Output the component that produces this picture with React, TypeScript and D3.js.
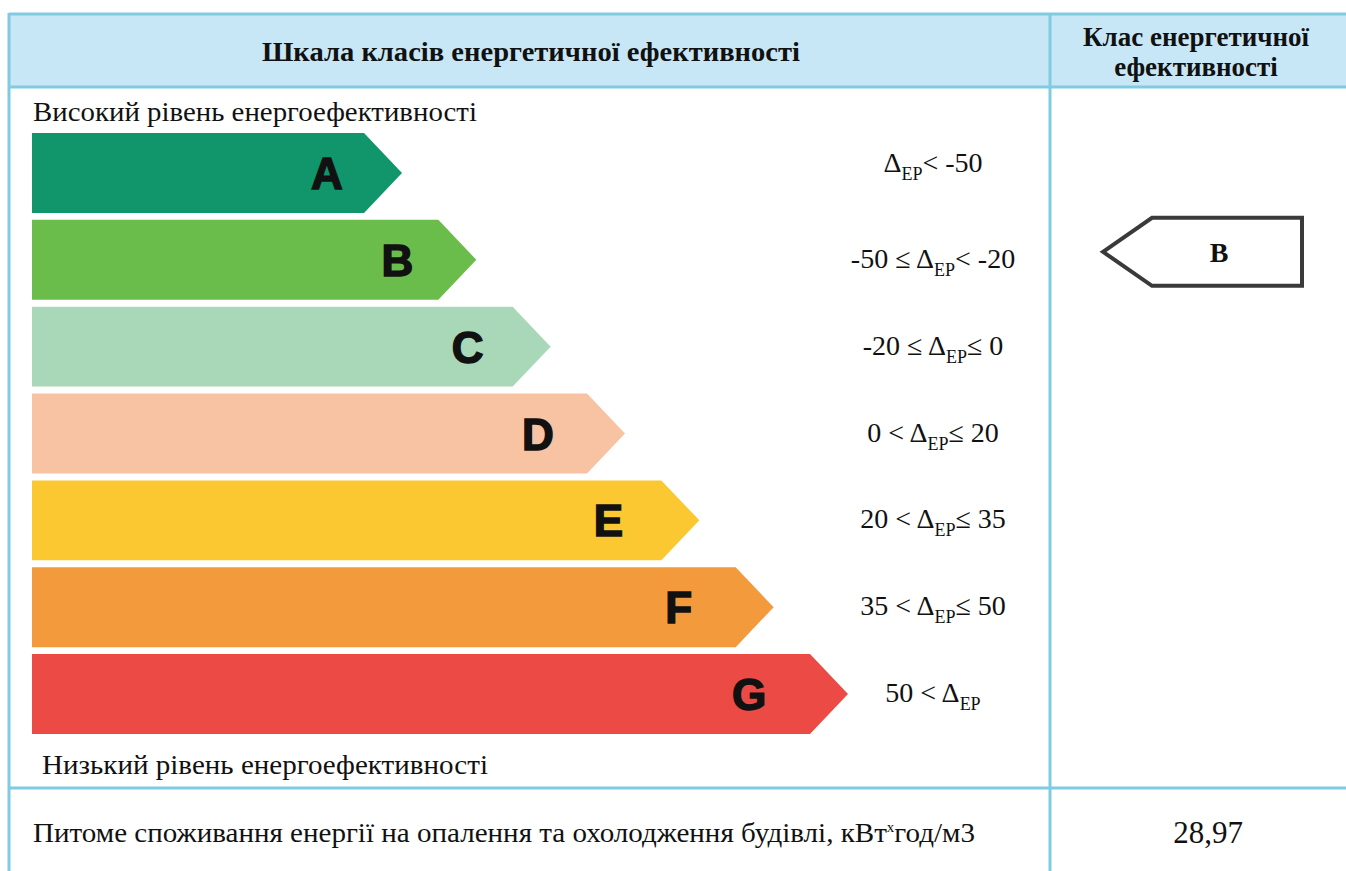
import * as d3 from 'd3';
import { useMemo } from 'react';

// classes, top (best) to bottom (worst)
const classes = ['A', 'B', 'C', 'D', 'E', 'F', 'G'];
const classColors = ['#10966a', '#6bbd4b', '#a9d8b8', '#f8c3a2', '#fcc832', '#f39a3d', '#ec4a45'];
// bar length rank (1 = shortest)
const barRank = [1, 2, 3, 4, 5, 6, 7];
// range text: left part, right part around Δ_EP
const rangeLeft = ['', '-50 ≤ ', '-20 ≤ ', '0 < ', '20 < ', '35 < ', '50 < '];
const rangeRight = ['< -50', '< -20', '≤  0', '≤  20', '≤  35', '≤  50', ''];

const titleLeft = 'Шкала класів енергетичної ефективності';
const titleRight = ['Клас енергетичної', 'ефективності'];
const topNote = 'Високий рівень енергоефективності';
const bottomNote = 'Низький рівень енергоефективності';
const footLabel = 'Питоме споживання енергії на опалення та охолодження будівлі, кВт';
const footUnit = 'год/м3';
const currentClass = 'B';
const footValue = '28,97';

const W = 1346;
const H = 871;
const border = '#7fcbe2';
const headFill = '#c8e7f6';
const serif = '"Liberation Serif", "DejaVu Serif", serif';

export default function App() {
  const yScale = useMemo(
    () => d3.scaleBand<string>().domain(classes).range([133, 734]).paddingInner(0.08).paddingOuter(0),
    []
  );
  const xScale = useMemo(() => d3.scaleLinear().domain([1, 7]).range([402, 848]), []);

  const tip = 38;
  const x0 = 32;
  const colX = 1050;
  const rightMid = (colX + W) / 2 - 2;

  const arrowPath = (cls: string, rank: number) => {
    const p = d3.path();
    const y = yScale(cls)!;
    const h = yScale.bandwidth();
    const xe = xScale(rank);
    p.moveTo(x0, y);
    p.lineTo(xe - tip, y);
    p.lineTo(xe, y + h / 2);
    p.lineTo(xe - tip, y + h);
    p.lineTo(x0, y + h);
    p.closePath();
    return p.toString();
  };

  const ci = classes.indexOf(currentClass);
  const indY = yScale(currentClass)! + yScale.bandwidth() / 2 - 8;
  const ind = d3.path();
  ind.moveTo(1103, indY);
  ind.lineTo(1152, indY - 34);
  ind.lineTo(1302, indY - 34);
  ind.lineTo(1302, indY + 34);
  ind.lineTo(1152, indY + 34);
  ind.closePath();

  return (
    <svg width={W} height={H} style={{ position: 'absolute', left: 0, top: 0, background: '#fff' }}>
      {/* header band */}
      <rect x={9} y={14} width={W - 9} height={73} fill={headFill} />
      <line x1={9} x2={W} y1={14} y2={14} stroke={border} strokeWidth={3} />
      <line x1={9} x2={W} y1={87} y2={87} stroke={border} strokeWidth={3} />
      <line x1={9} x2={W} y1={788} y2={788} stroke={border} strokeWidth={3} />
      <line x1={9} x2={9} y1={13} y2={H} stroke={border} strokeWidth={3} />
      <line x1={colX} x2={colX} y1={13} y2={H} stroke={border} strokeWidth={3} />

      <text x={262} y={61} fontFamily={serif} fontWeight="bold" fontSize={27} fill="#111" textLength={538} lengthAdjust="spacingAndGlyphs">
        {titleLeft}
      </text>
      {titleRight.map((t, i) => (
        <text key={t} x={rightMid} y={46 + i * 30} textAnchor="middle" fontFamily={serif} fontWeight="bold" fontSize={27} fill="#111">
          {t}
        </text>
      ))}

      <text x={33} y={121} fontFamily={serif} fontSize={27} fill="#111" textLength={444} lengthAdjust="spacingAndGlyphs">
        {topNote}
      </text>

      {classes.map((c, i) => {
        const y = yScale(c)!;
        const h = yScale.bandwidth();
        const xe = xScale(barRank[i]);
        return (
          <g key={c}>
            <path d={arrowPath(c, barRank[i])} fill={classColors[i]} />
            <text
              x={xe - 75 - i * 4}
              y={y + h / 2 + 16}
              textAnchor="middle"
              fontFamily='"Liberation Sans", Arial, sans-serif'
              fontWeight="bold"
              fontSize={44}
              fill="#111"
              stroke="#111"
              strokeWidth={1.5}
            >
              {c}
            </text>
            <text x={933} y={y + h / 2 + (i === 0 ? -1 : 8)} textAnchor="middle" fontFamily={serif} fontSize={28} fill="#111">
              {rangeLeft[i]}Δ
              <tspan fontSize={18} dy={8}>EP</tspan>
              <tspan dy={-8}>{rangeRight[i]}</tspan>
            </text>
          </g>
        );
      })}

      <text x={42} y={774} fontFamily={serif} fontSize={27} fill="#111" textLength={446} lengthAdjust="spacingAndGlyphs">
        {bottomNote}
      </text>

      {/* current class indicator */}
      <path d={ind.toString()} fill="#fff" stroke="#3a3a3a" strokeWidth={4} />
      <text x={1219} y={indY + 10} textAnchor="middle" fontFamily={serif} fontWeight="bold" fontSize={28} fill="#111">
        {classes[ci]}
      </text>

      <text x={33} y={842} fontFamily={serif} fontSize={27} fill="#111" textLength={942} lengthAdjust="spacingAndGlyphs">
        {footLabel}
        <tspan fontSize={14} dy={-10}>х</tspan>
        <tspan dy={10}>{footUnit}</tspan>
      </text>
      <text x={rightMid + 12} y={843} textAnchor="middle" fontFamily={serif} fontSize={31} fill="#111">
        {footValue}
      </text>
    </svg>
  );
}
